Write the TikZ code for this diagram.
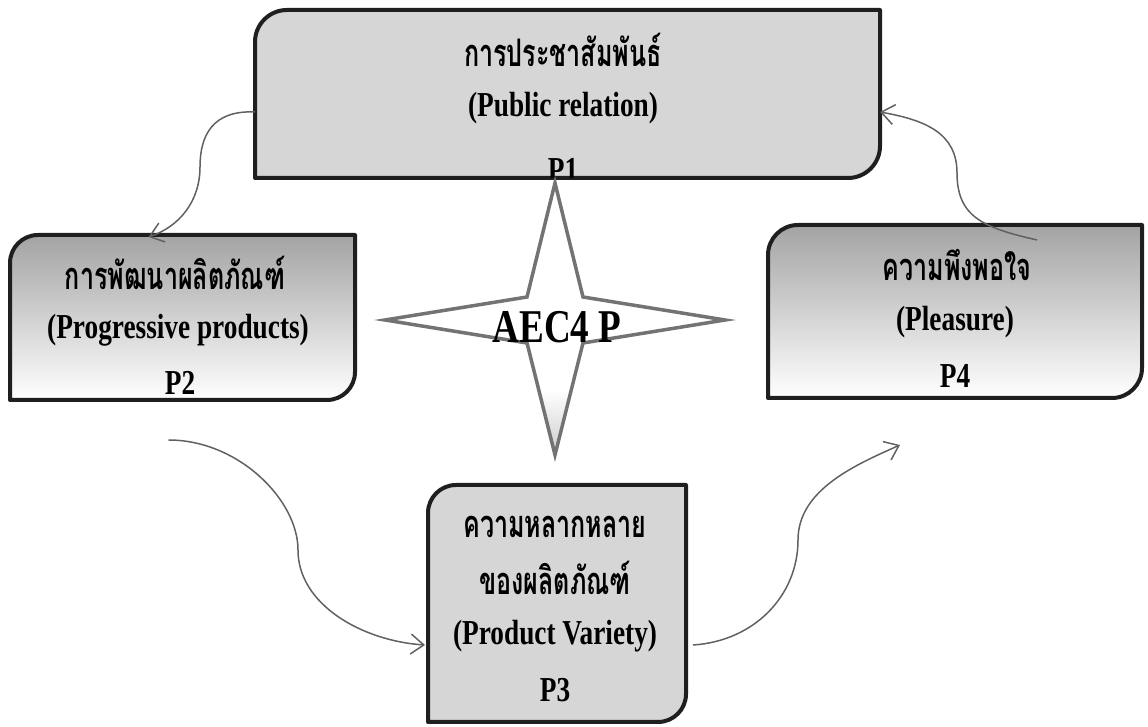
\documentclass[tikz,border=0pt]{standalone}
\usepackage{fontspec}
\setmainfont{Liberation Serif}
\newfontfamily\thaifont[Script=Thai]{Loma}
\usetikzlibrary{arrows.meta,calc}
\newcommand\ENG[1]{\scalebox{0.78}[1]{\fontsize{35}{42}\selectfont\bfseries #1}}
\newcommand\THA[1]{\scalebox{0.66}[1]{\thaifont\bfseries\fontsize{38}{44}\selectfont #1}}
\newcommand\drawbox[3]{%
  \path[#3] (#1.south west) -- ([yshift=-#2pt]#1.north west)
    arc[start angle=180,end angle=90,radius=#2pt] -- (#1.north east)
    -- ([yshift=#2pt]#1.south east)
    arc[start angle=0,end angle=-90,radius=#2pt] -- cycle;}
\pgfdeclareverticalshading{starshade}{100bp}{color(0bp)=(black!20); color(25bp)=(black!20); color(37bp)=(white); color(100bp)=(white)}
\begin{document}
\begin{tikzpicture}[x=1pt,y=1pt,
  boxframe/.style={inner sep=0pt,outer sep=0pt,draw=none},
  boxline/.style={draw=black!88,line width=4pt,line join=round},
  flatfill/.style={boxline,fill=black!16},
  gradfill/.style={boxline,top color=black!36,bottom color=white},
  lbl/.style={inner sep=0pt,text=black},
  conn/.style={draw=black!62,line width=1.5pt,
    -{Straight Barb[length=13pt,width=20pt,line width=1.5pt]}},
  starline/.style={draw=black!55,line width=3.5pt,line join=miter,
    shading=starshade}
]
\useasboundingbox (0,0) rectangle (1148,727);

% frames
\node[boxframe,minimum width=625pt,minimum height=168pt] (p1) at (567.5,633) {};
\node[boxframe,minimum width=345pt,minimum height=165pt] (p2) at (182.5,409.5) {};
\node[boxframe,minimum width=258pt,minimum height=237pt] (p3) at (557,123.5) {};
\node[boxframe,minimum width=374pt,minimum height=173pt] (p4) at (955,415.5) {};

% boxes
\drawbox{p1}{32}{flatfill}
\drawbox{p2}{28}{gradfill}
\drawbox{p3}{28}{flatfill}
\drawbox{p4}{30}{gradfill}

% P1 text
\node[lbl] (p1a) at (563,677) {\THA{การประชาสัมพันธ์}};
\node[lbl] (p1b) at (563,619) {\ENG{(Public relation)}};
\begin{scope}
  \clip (p1.south west) rectangle (p1.north east);
  \node[lbl,anchor=base] (p1c) at (563,545) {\ENG{P1}};
\end{scope}

% P2 text
\node[lbl] (p2a) at (175,454) {\THA{การพัฒนาผลิตภัณฑ์}};
\node[lbl] (p2b) at (178,397) {\ENG{(Progressive products)}};
\node[lbl] (p2c) at (180,344) {\ENG{P2}};

% P4 text
\node[lbl] (p4a) at (957,462) {\THA{ความพึงพอใจ}};
\node[lbl] (p4b) at (955,405) {\ENG{(Pleasure)}};
\node[lbl] (p4c) at (955,351) {\ENG{P4}};

% P3 text
\node[lbl] (p3a) at (555,200) {\THA{ความหลากหลาย}};
\node[lbl] (p3b) at (555,149) {\THA{ของผลิตภัณฑ์}};
\node[lbl] (p3c) at (555,91) {\ENG{(Product Variety)}};
\node[lbl] (p3d) at (555,37) {\ENG{P3}};

% star
\path[starline] (555,544) -- (583,430) -- (725,407) -- (583,384) -- (555,272)
  -- (527,384) -- (385,407) -- (527,430) -- cycle;
\node[lbl,anchor=base] (aec) at (557,384)
  {\scalebox{0.79}[1]{\fontsize{47}{50}\selectfont\bfseries AEC4 P}};

% connectors
\coordinate (m1) at (200,560);
\coordinate (m2) at (298,177);
\coordinate (m3) at (798,187);
\coordinate (m4) at (957,554);
\draw[conn] ($(p1.west)+(0,-18)$) .. controls +(-42,2) and +(0,32) .. (m1)
  .. controls +(0,-35) and +(30,10) .. ($(p2.north)+(-34,-2)$);
\draw[conn] ($(p2.south)+(-14,-40)$) .. controls +(70,0) and +(0,50) .. (m2)
  .. controls +(0,-55) and +(-62,4) .. ($(p3.west)+(-3,-41.5)$);
\draw[conn] ($(p3.east)+(7,-41.5)$) .. controls +(62,4) and +(0,-55) .. (m3)
  .. controls +(0,50) and +(-45,-20) .. ($(p4.south)+(-55,-47)$);
\draw[conn] ($(p4.north)+(82,-15)$) .. controls +(-52,12) and +(0,-45) .. (m4)
  .. controls +(0,40) and +(45,-8) .. ($(p1.east)+(0,-18)$);
\end{tikzpicture}
\end{document}
